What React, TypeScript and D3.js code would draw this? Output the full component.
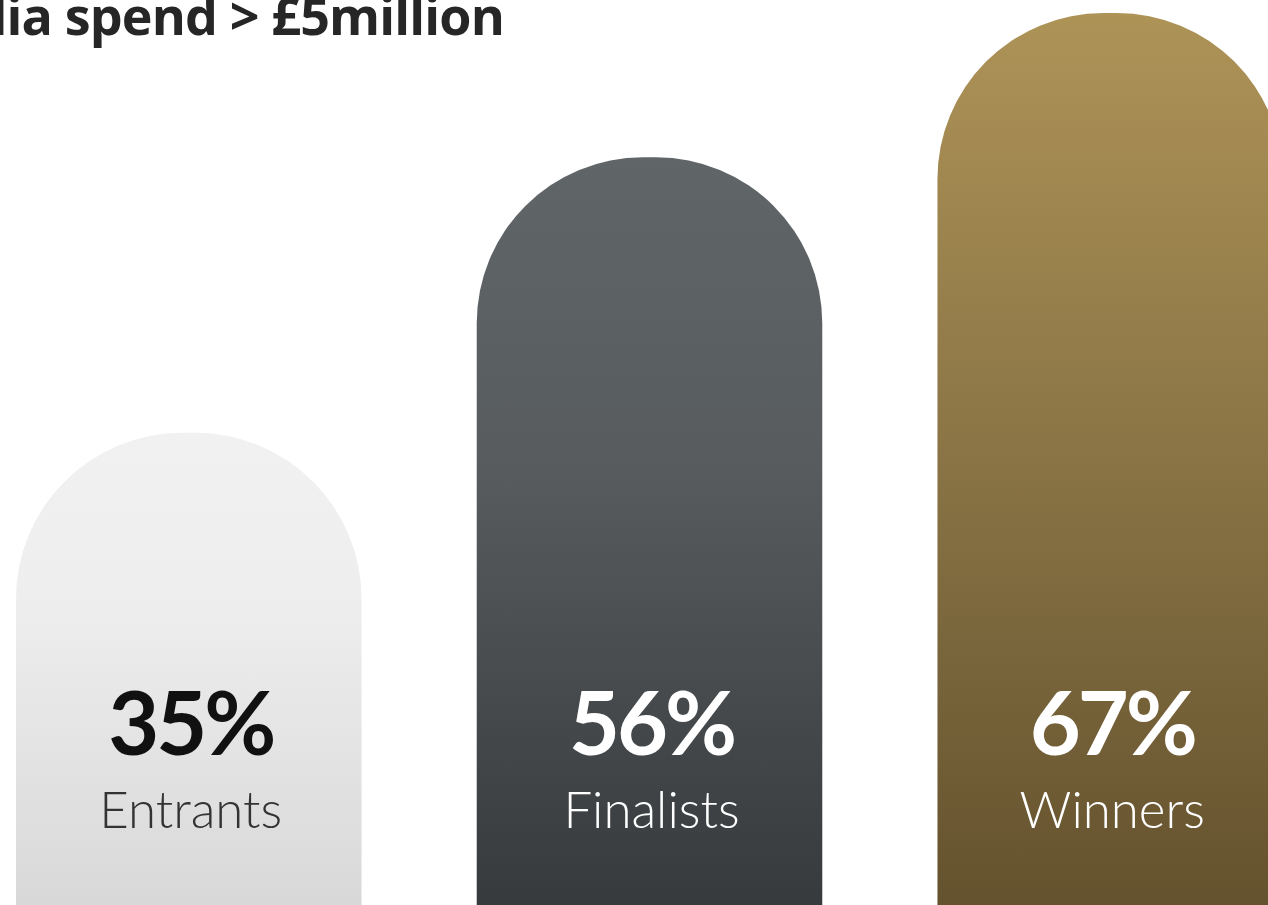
import React from "react";
import * as d3 from "d3";

const title = "Media spend > £5million";
const categories = ["Entrants", "Finalists", "Winners"];
const values = [35, 56, 67];
const valueLabels = ["35%", "56%", "67%"];

const W = 1268;
const H = 905;

const gradients = [
  [
    { o: 0, c: "#f1f1f1" },
    { o: 0.35, c: "#eeeeee" },
    { o: 1, c: "#d8d8d8" },
  ],
  [
    { o: 0, c: "#606567" },
    { o: 0.4, c: "#585c5f" },
    { o: 1, c: "#363a3c" },
  ],
  [
    { o: 0, c: "#ae9357" },
    { o: 0.45, c: "#8d7747" },
    { o: 1, c: "#64522e" },
  ],
];
const valueColors = ["#111111", "#ffffff", "#ffffff"];
const labelColors = ["#333333", "#ffffff", "#ffffff"];

export default function App() {
  const x = d3
    .scaleBand<string>()
    .domain(categories)
    .range([16, 1283])
    .paddingInner(0.25)
    .paddingOuter(0);
  const y = d3.scaleLinear().domain([0, 67]).range([892, 13]);
  const bw = x.bandwidth();
  const r = 166;

  const barPath = (cat: string, v: number) => {
    const x0 = x(cat)!;
    const x1 = x0 + bw;
    const top = y(v);
    const p = d3.path();
    p.moveTo(x0, H + 5);
    p.lineTo(x0, top + r);
    p.arcTo(x0, top, x0 + r, top, r);
    p.lineTo(x1 - r, top);
    p.arcTo(x1, top, x1, top + r, r);
    p.lineTo(x1, H + 5);
    p.closePath();
    return p.toString();
  };

  return (
    <svg
      width={W}
      height={H}
      style={{ position: "absolute", left: 0, top: 0, display: "block" }}
    >
      <defs>
        {gradients.map((g, i) => (
          <linearGradient
            key={i}
            id={`g${i}`}
            x1="0"
            y1="0"
            x2="0"
            y2="1"
          >
            {g.map((s, j) => (
              <stop key={j} offset={s.o} stopColor={s.c} />
            ))}
          </linearGradient>
        ))}
      </defs>
      <rect width={W} height={H} fill="#ffffff" />
      <text
        x={504}
        y={35}
        textAnchor="end"
        fontFamily="'Open Sans', sans-serif"
        fontWeight={700}
        fontSize={52}
        fill="#262626"
        letterSpacing={-0.85}
      >
        {title}
      </text>
      {categories.map((cat, i) => {
        const cx = x(cat)! + bw / 2 + 2;
        return (
          <g key={cat}>
            <path d={barPath(cat, values[i])} fill={`url(#g${i})`} />
            <text
              x={cx}
              y={755}
              textAnchor="middle"
              fontFamily="Lato, sans-serif"
              fontWeight={700}
              fontSize={88}
              letterSpacing={-3}
              fill={valueColors[i]}
            >
              {valueLabels[i]}
            </text>
            <text
              x={cx}
              y={828}
              textAnchor="middle"
              fontFamily="Lato, sans-serif"
              fontWeight={300}
              fontSize={51}
              fill={labelColors[i]}
            >
              {cat}
            </text>
          </g>
        );
      })}
    </svg>
  );
}
